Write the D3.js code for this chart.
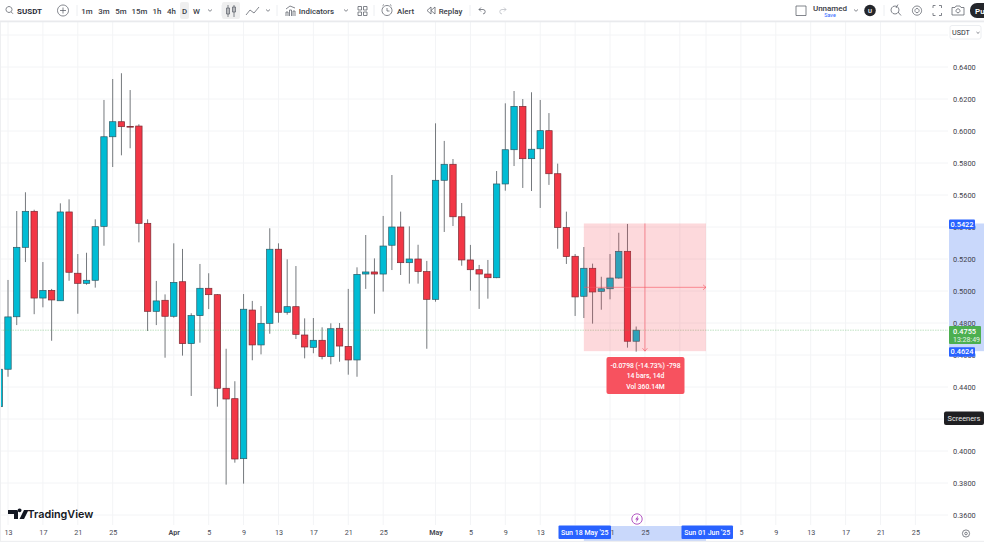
<!DOCTYPE html>
<html lang="en">
<head>
  <meta charset="UTF-8">
  <title>SUSDT D</title>
  <script src="https://d3js.org/d3.v7.min.js"></script>
  <style>
    html, body { margin: 0; padding: 0; background: #fff; overflow: hidden; }
    svg { display: block; font-family: Roboto, 'Open Sans', sans-serif; }
    .tool { font-size: 7.9px; fill: #3a3d46; }
    .ico { fill: none; stroke: #5a5d67; stroke-width: 0.75; }
  </style>
</head>
<body>
<svg id="chart" width="984" height="542"></svg>
<script>
  // daily candles, 12 Mar -> 24 May 2025
  const dates = ["2025-03-12","2025-03-13","2025-03-14","2025-03-15","2025-03-16","2025-03-17","2025-03-18","2025-03-19","2025-03-20","2025-03-21","2025-03-22","2025-03-23","2025-03-24","2025-03-25","2025-03-26","2025-03-27","2025-03-28","2025-03-29","2025-03-30","2025-03-31",
    "2025-04-01","2025-04-02","2025-04-03","2025-04-04","2025-04-05","2025-04-06","2025-04-07","2025-04-08","2025-04-09","2025-04-10","2025-04-11","2025-04-12","2025-04-13","2025-04-14","2025-04-15","2025-04-16","2025-04-17","2025-04-18","2025-04-19","2025-04-20","2025-04-21","2025-04-22","2025-04-23","2025-04-24","2025-04-25","2025-04-26","2025-04-27","2025-04-28","2025-04-29","2025-04-30",
    "2025-05-01","2025-05-02","2025-05-03","2025-05-04","2025-05-05","2025-05-06","2025-05-07","2025-05-08","2025-05-09","2025-05-10","2025-05-11","2025-05-12","2025-05-13","2025-05-14","2025-05-15","2025-05-16","2025-05-17","2025-05-18","2025-05-19","2025-05-20","2025-05-21","2025-05-22","2025-05-23","2025-05-24"];
  const opens = [.4277,.4511,.4839,.5273,.5498,.4956,.5004,.4939,.5494,.5111,.5048,.5067,.5404,.5964,.6058,.6029,.6031,.5423,.4873,.4942,.4842,.5058,.4671,.4846,.5017,.4977,.4392,.4327,.3952,.4881,.4663,.4798,.5261,.4867,.4902,.4725,.4648,.4692,.4590,.4767,.4654,.4569,.5106,.5119,.5106,.5286,.5400,.5177,.5200,.5121,.4948,.5692,.5792,.5464,.5194,.5133,.5106,.5083,.5669,.5883,.6154,.5827,.5889,.6002,.5733,.5396,.5217,.4967,.5142,.4998,.5014,.5081,.5248,.4686];
  const highs = [.4511,.5069,.5500,.5617,.5508,.5181,.5013,.5548,.5573,.5231,.5239,.5448,.6194,.6325,.6361,.6256,.6042,.5448,.5063,.4979,.5298,.5263,.4861,.5169,.5111,.4981,.4639,.4436,.4981,.4938,.4906,.5392,.5298,.5198,.5156,.4829,.4831,.4773,.4798,.4800,.5013,.5148,.5350,.5204,.5469,.5725,.5496,.5404,.5289,.5188,.6048,.5938,.5825,.5550,.5288,.5163,.5194,.5750,.6173,.6250,.6200,.6242,.6194,.6112,.5796,.5496,.5231,.5275,.5171,.5089,.5231,.5364,.5419,.4778];
  const lows = [.4277,.4464,.4787,.5181,.4855,.4898,.4689,.4939,.5064,.4858,.5039,.5021,.5283,.5775,.5848,.5892,.5304,.4750,.4787,.4583,.4833,.4596,.4344,.4677,.4887,.4277,.3790,.3927,.3796,.4567,.4604,.4733,.4802,.4852,.4700,.4579,.4611,.4573,.4542,.4558,.4477,.4464,.5013,.4858,.4996,.5131,.5100,.5046,.5046,.4639,.4933,.5369,.5406,.5158,.5002,.4888,.4952,.5080,.5627,.5781,.5644,.5625,.5519,.5663,.5264,.5169,.4844,.4831,.4796,.4883,.4948,.5077,.4646,.4621];
  const closes = [.4511,.4838,.5273,.5498,.4956,.5004,.4944,.5494,.5117,.5048,.5067,.5402,.5964,.6058,.6027,.6027,.5423,.4873,.4938,.4842,.5054,.4671,.4846,.5017,.4977,.4392,.4325,.3950,.4886,.4663,.4798,.5261,.4867,.4902,.4729,.4650,.4692,.4590,.4764,.4656,.4569,.5104,.5119,.5106,.5281,.5400,.5177,.5200,.5121,.4948,.5692,.5792,.5464,.5194,.5133,.5106,.5083,.5669,.5883,.6154,.5827,.5886,.6002,.5733,.5396,.5215,.4963,.5142,.4994,.5014,.5081,.5248,.4686,.4755];

  const priceTicks = [.64,.62,.60,.58,.56,.54,.52,.50,.48,.46,.44,.40,.38,.36]; // .42 sits behind the Screeners button
  const priceGrid = [.66,.64,.62,.60,.58,.56,.54,.52,.50,.48,.46,.44,.42,.40,.38,.36];
  const timeGrid = ["2025-03-13","2025-03-17","2025-03-21","2025-03-25","2025-04-01","2025-04-05","2025-04-09","2025-04-13","2025-04-17","2025-04-21","2025-04-25","2025-05-01","2025-05-05","2025-05-09","2025-05-13","2025-05-17","2025-05-21","2025-05-25","2025-05-29","2025-06-01","2025-06-05","2025-06-09","2025-06-13","2025-06-17","2025-06-21","2025-06-25"];
  // labels under the blue date tags are not shown
  const timeLabels = ["2025-03-13","2025-03-17","2025-03-21","2025-03-25","2025-04-01","2025-04-05","2025-04-09","2025-04-13","2025-04-17","2025-04-21","2025-04-25","2025-05-01","2025-05-05","2025-05-09","2025-05-13","2025-05-21","2025-05-25","2025-06-05","2025-06-09","2025-06-13","2025-06-17","2025-06-21","2025-06-25"];
  const monthLabels = {3: "Mar", 4: "Apr", 5: "May", 6: "Jun"};

  const rangeTop = .5422, rangeBottom = .4624, lastPrice = .4755;
  const rangeStart = "2025-05-18", rangeEnd = "2025-06-01";

  const parse = d3.utcParse("%Y-%m-%d");
  const x = d3.scaleUtc().domain([parse("2025-03-13"), parse("2025-06-01")]).range([8, 706]);
  const y = d3.scaleLinear().domain([.36, .64]).range([515, 67]);

  const svg = d3.select("#chart");
  const plotRight = 948, plotTop = 22, plotBottom = 525;

  // grid
  svg.append("g").selectAll("line").data(timeGrid).join("line")
    .attr("x1", d => x(parse(d))).attr("x2", d => x(parse(d)))
    .attr("y1", plotTop).attr("y2", plotBottom)
    .attr("stroke", "#f3f4f6");
  svg.append("g").selectAll("line").data(priceGrid).join("line")
    .attr("x1", 0).attr("x2", plotRight)
    .attr("y1", d => y(d)).attr("y2", d => y(d))
    .attr("stroke", "#f3f4f6");

  // candles
  const candles = dates.map((d, i) => ({ date: parse(d), o: opens[i], h: highs[i], l: lows[i], c: closes[i] }));
  const upColor = "#00bcd4", downColor = "#f23645";
  const bodyW = 6.4;

  svg.append("g").selectAll("line").data(candles).join("line")
    .attr("x1", d => x(d.date)).attr("x2", d => x(d.date))
    .attr("y1", d => y(d.h)).attr("y2", d => y(d.l))
    .attr("stroke", "#75797d").attr("stroke-width", 1);

  svg.append("g").selectAll("rect").data(candles).join("rect")
    .attr("x", d => x(d.date) - bodyW / 2)
    .attr("width", bodyW)
    .attr("y", d => y(Math.max(d.o, d.c)))
    .attr("height", d => Math.max(0.8, Math.abs(y(d.o) - y(d.c))))
    .attr("fill", d => d.c >= d.o ? upColor : downColor)
    .attr("stroke", d => d.c >= d.o ? "#2c5a66" : "#7a2a33")
    .attr("stroke-width", 0.7);

  // last price line
  svg.append("line")
    .attr("x1", 0).attr("x2", plotRight).attr("y1", y(lastPrice)).attr("y2", y(lastPrice))
    .attr("stroke", "#4caf50").attr("stroke-opacity", 0.45).attr("stroke-width", 0.8).attr("stroke-dasharray", "1.5 1");

  // date-price range drawing
  const rx0 = x(parse(rangeStart)), rx1 = x(parse(rangeEnd));
  const ry0 = y(rangeTop), ry1 = y(rangeBottom);
  const rxMid = (rx0 + rx1) / 2, ryMid = (ry0 + ry1) / 2;
  const rangeRed = "#f7525f";
  svg.append("rect").attr("x", rx0).attr("y", ry0).attr("width", rx1 - rx0).attr("height", ry1 - ry0)
    .attr("fill", "#f23645").attr("fill-opacity", 0.19);
  const rangeG = svg.append("g").attr("fill", "none").attr("stroke", rangeRed).attr("stroke-opacity", 0.75).attr("stroke-width", 0.8);
  rangeG.append("path").attr("d", `M${rx0},${ryMid}H${rx1}M${rx1 - 3},${ryMid - 2.5}L${rx1},${ryMid}L${rx1 - 3},${ryMid + 2.5}`);
  rangeG.append("path").attr("d", `M${rxMid},${ry0}V${ry1}M${rxMid - 2.5},${ry1 - 3}L${rxMid},${ry1}L${rxMid + 2.5},${ry1 - 3}`);

  svg.append("rect").attr("x", 606.5).attr("y", 357).attr("width", 78).attr("height", 37).attr("rx", 2).attr("fill", rangeRed);
  const infoLines = ["-0.0798 (-14.73%) -798", "14 bars, 14d", "Vol 360.14M"];
  svg.append("g").selectAll("text").data(infoLines).join("text")
    .attr("x", 645.5).attr("y", (d, i) => 367.5 + i * 10.7)
    .attr("text-anchor", "middle").attr("fill", "#fff").attr("font-size", 6.8).attr("font-weight", 500)
    .text(d => d);

  // range highlight on the axes
  svg.append("rect").attr("x", 949).attr("y", ry0).attr("width", 35).attr("height", ry1 - ry0).attr("fill", "#c9d8fb");
  svg.append("rect").attr("x", rx0).attr("y", 526).attr("width", rx1 - rx0).attr("height", 15).attr("fill", "#c9d8fb");

  // axes
  const priceAxis = d3.axisRight(y).tickValues(priceTicks).tickFormat(d3.format(".4f")).tickSize(0).tickPadding(0);
  const gy = svg.append("g").attr("transform", "translate(953,0)").call(priceAxis);
  gy.select(".domain").remove();
  gy.selectAll("text").attr("font-size", 7.4).attr("font-family", "Roboto, sans-serif").attr("fill", "#3f424b");

  const timeAxis = d3.axisBottom(x).tickValues(timeLabels.map(parse)).tickSize(0).tickPadding(0)
    .tickFormat(d => d.getUTCDate() === 1 ? monthLabels[d.getUTCMonth() + 1] : String(d.getUTCDate()));
  const gx = svg.append("g").attr("transform", "translate(0,530)").call(timeAxis);
  gx.select(".domain").remove();
  gx.selectAll("text").attr("font-size", 7.2).attr("font-family", "Roboto, sans-serif").attr("fill", "#4a4d57")
    .attr("font-weight", d => d.getUTCDate() === 1 ? 700 : 400);

  // axis tags
  function blueTag(tx, ty, w, h, label, size) {
    svg.append("rect").attr("x", tx).attr("y", ty).attr("width", w).attr("height", h).attr("rx", 1).attr("fill", "#2962ff");
    svg.append("text").attr("x", tx + w / 2).attr("y", ty + h / 2 + 2.5).attr("text-anchor", "middle")
      .attr("fill", "#fff").attr("font-size", size).attr("font-weight", 500).text(label);
  }
  blueTag(949, ry0 - 4, 26, 9.5, d3.format(".4f")(rangeTop), 7.4);
  blueTag(949, ry1 - 4, 26, 9.5, d3.format(".4f")(rangeBottom), 7.4);
  blueTag(558.5, 525.5, 52.5, 13.5, "Sun 18 May '25", 7);
  blueTag(681.5, 525.5, 51.5, 13.5, "Sun 01 Jun '25", 7);

  svg.append("rect").attr("x", 949).attr("y", 326).attr("width", 32).attr("height", 18).attr("rx", 1).attr("fill", "#4caf50");
  svg.append("text").attr("x", 953).attr("y", 333.5).attr("fill", "#fff").attr("font-size", 7.4).attr("font-weight", 500).text(d3.format(".4f")(lastPrice));
  svg.append("text").attr("x", 953).attr("y", 341.5).attr("fill", "#e3f3e4").attr("font-size", 7).text("13:28:49");

  svg.append("rect").attr("x", 944).attr("y", 411.5).attr("width", 40).attr("height", 13.5).attr("rx", 2).attr("fill", "#1f1f22");
  svg.append("text").attr("x", 964).attr("y", 421).attr("text-anchor", "middle").attr("fill", "#e8e8e8").attr("font-size", 7.4).text("Screeners");

  // currency button
  svg.append("rect").attr("x", 950).attr("y", 25.5).attr("width", 31).attr("height", 13.5).attr("rx", 2).attr("fill", "#fff").attr("stroke", "#eceef1");
  svg.append("text").attr("x", 952).attr("y", 34.5).attr("font-size", 7.2).attr("fill", "#2a2e39").text("USDT");
  svg.append("path").attr("class", "ico").attr("d", "M976.5,32l1.5,1.4l1.5,-1.4");

  // logo
  svg.append("path").attr("fill", "#131722")
    .attr("d", "M8,510H18V519H14V514H8ZM24,510L19.5,519H24L28.5,510ZM19.6,512.2A1.9,1.9 0 1 0 19.59,512.2Z");
  svg.append("text").attr("x", 27.5).attr("y", 518).attr("font-size", 10.8).attr("font-weight", 600).attr("font-family", "Inter, Roboto, sans-serif").attr("fill", "#131722").text("TradingView");

  // lightning marker + settings gear
  svg.append("circle").attr("cx", 637).attr("cy", 519).attr("r", 5.2).attr("fill", "#fff").attr("stroke", "#ab47bc").attr("stroke-width", 0.9);
  svg.append("path").attr("fill", "#ab47bc").attr("d", "M638.3,515.5L635.2,519.6H636.9L635.9,522.5L639,518.4H637.3Z");
  svg.append("circle").attr("cx", 966).attr("cy", 533.5).attr("r", 3.6).attr("class", "ico");
  svg.append("circle").attr("cx", 966).attr("cy", 533.5).attr("r", 1.3).attr("class", "ico");

  // frame
  svg.append("rect").attr("x", 0).attr("y", 20.5).attr("width", 984).attr("height", 1.8).attr("fill", "#e9eaed");
  svg.append("rect").attr("x", 0).attr("y", 22).attr("width", 1).attr("height", 520).attr("fill", "#eeeff1");
  svg.append("rect").attr("x", 0).attr("y", 540.8).attr("width", 984).attr("height", 1.2).attr("fill", "#eeeff1");

  // toolbar
  const toolbar = svg.append("g");
  toolbar.append("rect").attr("x", 180).attr("y", 2).attr("width", 9).attr("height", 17).attr("rx", 2).attr("fill", "#efefef");
  toolbar.append("rect").attr("x", 222).attr("y", 2).attr("width", 18).attr("height", 17).attr("rx", 2).attr("fill", "#efefef");

  const toolLabels = [["1m",87],["3m",104],["5m",121],["15m",139.5],["1h",157],["4h",171.5],["D",184.5],["W",196.5],["Indicators",316.5],["Alert",405.5],["Replay",450.5]];
  toolbar.selectAll("text.tool").data(toolLabels).join("text").attr("class", "tool")
    .attr("x", d => d[1]).attr("y", 13.5).attr("text-anchor", "middle").attr("font-weight", 500).text(d => d[0]);
  toolbar.append("text").attr("x", 17).attr("y", 13.5).attr("font-size", 8).attr("font-weight", 700).attr("fill", "#2a2e39").text("SUSDT");
  toolbar.append("text").attr("x", 830).attr("y", 11).attr("text-anchor", "middle").attr("font-size", 8).attr("font-weight", 500).attr("fill", "#3a3d46").text("Unnamed");
  toolbar.append("text").attr("x", 830).attr("y", 17).attr("text-anchor", "middle").attr("font-size", 5.4).attr("fill", "#2962ff").text("Save");

  // separators and chevrons
  const separators = [77, 222, 277, 374, 470, 884];
  toolbar.selectAll("line.sep").data(separators).join("line").attr("class", "sep")
    .attr("x1", d => d).attr("x2", d => d).attr("y1", 5).attr("y2", 16).attr("stroke", "#eceef1");
  const chevrons = [210, 268, 346, 856];
  toolbar.selectAll("path.chev").data(chevrons).join("path").attr("class", "chev ico")
    .attr("d", d => `M${d - 2},9.5l2,1.8l2,-1.8`);

  const icons = [
    "M9,6.5a3,3 0 1 0 0.01,0M11,11.8l2,2",
    "M63,5a5.5,5.5 0 1 0 0.01,0M63,7.5v6M60,10.5h6",
    "M228,5v12M226.5,8h3v6h-3ZM234,5v12M232.5,7h3v5h-3Z",
    "M246,15l4,-5l4,3l5,-6",
    "M286,16v-4h2v4M289.5,16v-6h2v6M293,16v-5h2v5M286,9l4,-3l5,2",
    "M358,6.5h3.5v3.5h-3.5ZM363.5,6.5h3.5v3.5h-3.5ZM358,12h3.5v3.5h-3.5ZM363.5,12h3.5v3.5h-3.5Z",
    "M387,5.5a5,5 0 1 0 0.01,0M387,8v3h2.5M384,4.5l-1.5,1.3M390,4.5l1.5,1.3",
    "M431,7v7l-4,-3.5ZM435,7v7l-4,-3.5Z",
    "M479,9.5h4a2.2,2.2 0 0 1 0,4.4M481,7.5l-2,2l2,2",
    "M506,9.5h-4a2.2,2.2 0 0 0 0,4.4M504,7.5l2,2l-2,2",
    "M796,6h10v9.5h-10Z",
    "M895,6a4,4 0 1 0 0.01,0M898,12l3,3.5M898,4.5l-2,3.5",
    "M917,6a4.6,4.6 0 1 0 0.01,0M917,8.5a2.1,2.1 0 1 0 0.01,0",
    "M933,8v-2.5h2.5M939,5.5h2.5v2.5M941.5,13v2.5h-2.5M935.5,15.5h-2.5v-2.5",
    "M952,7.5h3l1,-1.5h4l1,1.5h3v7.5h-12ZM958,8.8a2,2 0 1 0 0.01,0"
  ];
  toolbar.selectAll("path.icon").data(icons).join("path").attr("class", "icon ico").attr("d", d => d);
  // undo/redo sit lighter in the toolbar
  toolbar.selectAll("path.icon").filter((d, i) => i === 9).style("stroke", "#b8bbc2");

  toolbar.append("circle").attr("cx", 870).attr("cy", 10.5).attr("r", 5.8).attr("fill", "#24262b");
  toolbar.append("text").attr("x", 870).attr("y", 12.8).attr("text-anchor", "middle").attr("font-size", 6).attr("font-weight", 600).attr("fill", "#fff").text("U");
  toolbar.append("rect").attr("x", 970).attr("y", 3).attr("width", 30).attr("height", 15).attr("rx", 7).attr("fill", "#24262b");
  toolbar.append("text").attr("x", 975).attr("y", 13.5).attr("font-size", 8).attr("font-weight", 600).attr("fill", "#fff").text("Pu");
</script>
</body>
</html>
